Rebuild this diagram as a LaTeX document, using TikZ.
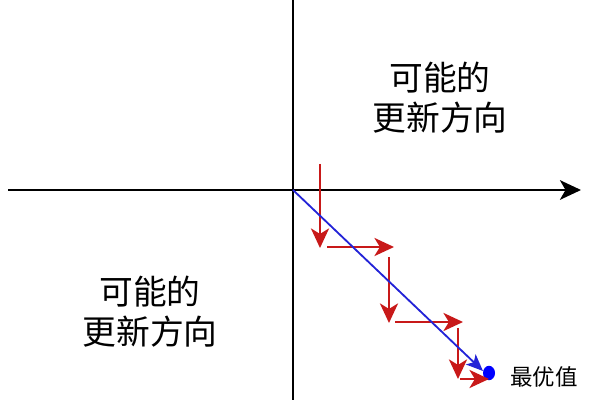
\documentclass[tikz,border=0pt]{standalone}
\usepackage{fontspec}
\newfontfamily\cjk{Noto Sans CJK SC}
\usetikzlibrary{arrows.meta, shapes.geometric}
\definecolor{stepred}{RGB}{200,25,25}
\definecolor{pathblue}{RGB}{35,35,215}

\begin{document}
\begin{tikzpicture}[x=0.025cm, y=-0.025cm,
		axis/.style={line width=1.3pt, black},
		stepline/.style={line width=1.1pt, stepred, -{Stealth[length=14pt, width=13pt, inset=4pt]}},
		bigtext/.style={align=center, font=\cjk\fontsize{24}{28.5}\selectfont}]
			\useasboundingbox (0,0) rectangle (600,400);
			\coordinate (top) at (293,0);
			\coordinate (bottom) at (293,400);
			\coordinate (left) at (8,190);
			\coordinate (right) at (581,190);
			\coordinate (o) at (293,190);
			\coordinate (tip) at (483,371);
			
			\node (q1) at (440,98) [bigtext] {可能的\\更新方向};
			\node (q3) at (150,312) [bigtext] {可能的\\更新方向};
			\node (best) at (489,373) [ellipse, fill=blue, inner sep=0pt, minimum width=0.3cm, minimum height=0.36cm] {};
			\node (besttext) at (544,377) [font=\cjk\fontsize{16}{19}\selectfont] {最优值};
			
			\draw[axis] (top) to (bottom);
			\draw[axis, -{Stealth[length=15pt, width=14pt, inset=4pt]}] (left) to (right);
			
			\draw[stepline] (320,164) to (320,248);
			\draw[stepline] (327,247) to (394,247);
			\draw[stepline] (389,257) to (389,323);
			\draw[stepline] (395,322) to (463,322);
			\draw[stepline] (458,328) to (458,379);
			\draw[stepline] (460,379) to (489,379);
			
			\draw[line width=1.3pt, pathblue, -{Stealth[length=12pt, width=10pt, inset=3pt]}] (o) to (tip);
		\end{tikzpicture}
\end{document}
